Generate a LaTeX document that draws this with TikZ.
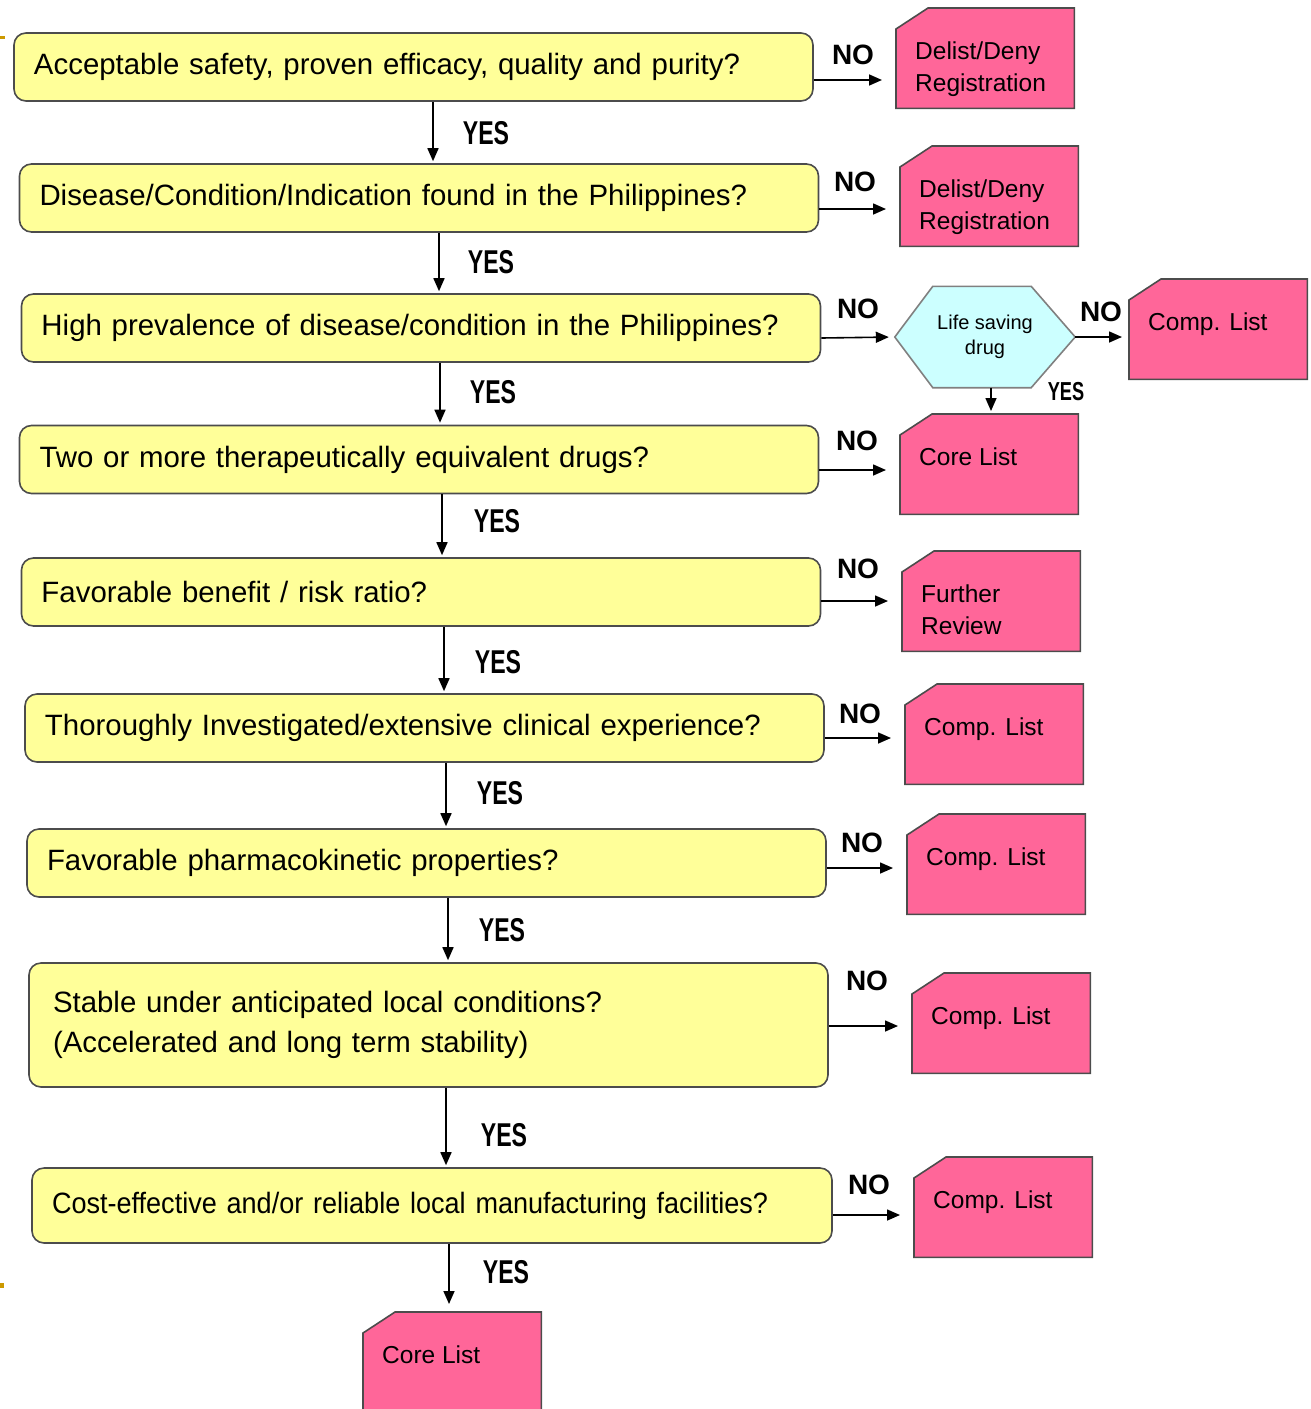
\documentclass[tikz,border=0pt]{standalone}
\usepackage{fontspec}
\setmainfont{Liberation Sans}
\newfontfamily\yesfont[FakeStretch=0.7]{Liberation Sans}
\newfontfamily\narrowfont[FakeStretch=0.92]{Liberation Sans}
\usetikzlibrary{arrows.meta,calc,backgrounds}
\definecolor{yfill}{HTML}{FFFF99}
\definecolor{pfill}{HTML}{FF6699}
\definecolor{hfill}{HTML}{CCFFFF}
\definecolor{markorange}{HTML}{CC9900}
\begin{document}
\begin{tikzpicture}[x=1pt,y=-1pt,
  ybox/.style={draw=black!70, line width=1.6pt, fill=yfill, rounded corners=12pt,
    minimum height=68pt, inner xsep=20pt, inner ysep=0pt, text width=759pt, align=left,
    font=\fontsize{29.4}{40}\selectfont},
  pbox/.style={minimum width=178pt, minimum height=100pt, inner sep=0pt, anchor=north west},
  ptext/.style={anchor=north west, inner sep=0pt, align=left, font=\fontsize{24.5}{32}\selectfont},
  pshape/.style={draw=black!70, line width=1.6pt, fill=pfill},
  arr/.style={line width=1.6pt, -{Triangle[length=13pt,width=11pt]}},
  nolab/.style={font=\bfseries\fontsize{28}{28}\selectfont, inner sep=0pt},
  yeslab/.style={font=\yesfont\bfseries\fontsize{33}{33}\selectfont, inner sep=0pt},
]
\clip (0,0) rectangle (1311,1409);

% orange slide markers
\fill[markorange] (0,36) rectangle (5,39);
\fill[markorange] (0,1283) rectangle (4,1288);

% question boxes
\node[ybox] (q1) at (413.5,67) {Acceptable safety, proven efficacy, quality and purity?};
\node[ybox] (q2) at (419,198) {Disease/Condition/Indication found in the Philippines?};
\node[ybox] (q3) at (421,328) {High prevalence of disease/condition in the Philippines?};
\node[ybox] (q4) at (419,459.5) {Two or more therapeutically equivalent drugs?};
\node[ybox] (q5) at (421,592) {Favorable benefit / risk ratio?};
\node[ybox] (q6) at (424.5,728) {Thoroughly Investigated/extensive clinical experience?};
\node[ybox] (q7) at (426.5,863) {Favorable pharmacokinetic properties?};
\node[ybox, minimum height=124pt, inner xsep=24pt, text width=751pt] (q8) at (428.5,1025)
  {Stable under anticipated local conditions?\\(Accelerated and long term stability)};
\node[ybox, minimum height=75pt, text width=760pt] (q9) at (432,1205.5)
  {\narrowfont Cost-effective and/or reliable local manufacturing facilities?};

% outcome boxes
\node[pbox] (p1) at (896,8) {};
\node[ptext] (p1t) at ([shift={(19,34)}]p1.north west) {Delist/Deny\\Registration};
\node[pbox] (p2) at (900,146) {};
\node[ptext] (p2t) at ([shift={(19,34)}]p2.north west) {Delist/Deny\\Registration};
\node[pbox] (p3) at (1129,279) {};
\node[ptext] (p3t) at ([shift={(19,34)}]p3.north west) {Comp. List};
\node[pbox] (p4) at (900,414) {};
\node[ptext] (p4t) at ([shift={(19,34)}]p4.north west) {Core List};
\node[pbox] (p5) at (902,551) {};
\node[ptext] (p5t) at ([shift={(19,34)}]p5.north west) {Further\\Review};
\node[pbox] (p6) at (905,684) {};
\node[ptext] (p6t) at ([shift={(19,34)}]p6.north west) {Comp. List};
\node[pbox] (p7) at (907,814) {};
\node[ptext] (p7t) at ([shift={(19,34)}]p7.north west) {Comp. List};
\node[pbox] (p8) at (912,973) {};
\node[ptext] (p8t) at ([shift={(19,34)}]p8.north west) {Comp. List};
\node[pbox] (p9) at (914,1157) {};
\node[ptext] (p9t) at ([shift={(19,34)}]p9.north west) {Comp. List};
\node[pbox] (p10) at (363,1312) {};
\node[ptext] (p10t) at ([shift={(19,34)}]p10.north west) {Core List};

% decision hexagon
\node[inner sep=0pt, minimum width=180pt, minimum height=101pt, align=center,
  font=\fontsize{20}{25}\selectfont] (hx) at (985,337) {Life saving\\drug};

\begin{scope}[on background layer]
  \foreach \n in {p1,p2,p3,p4,p5,p6,p7,p8,p9,p10}
    \draw[pshape] ($(\n.north west)+(0,21)$) -- ($(\n.north west)+(32,0)$)
      -- (\n.north east) -- (\n.south east) -- (\n.south west) -- cycle;
  \draw[draw=black!50, line width=1.6pt, fill=hfill]
    (hx.west) -- ($(hx.north west)+(38,0)$) -- ($(hx.north east)+(-44,0)$)
    -- (hx.east) -- ($(hx.south east)+(-44,0)$) -- ($(hx.south west)+(38,0)$) -- cycle;
\end{scope}

% YES connectors
\draw[arr, shorten >=2pt] (q1.south -| 433,0) -- (q2.north -| 433,0);
\draw[arr, shorten >=2pt] (q2.south -| 439,0) -- (q3.north -| 439,0);
\draw[arr, shorten >=2pt] (q3.south -| 440,0) -- (q4.north -| 440,0);
\draw[arr, shorten >=2pt] (q4.south -| 442,0) -- (q5.north -| 442,0);
\draw[arr, shorten >=2pt] (q5.south -| 444,0) -- (q6.north -| 444,0);
\draw[arr, shorten >=2pt] (q6.south -| 446,0) -- (q7.north -| 446,0);
\draw[arr, shorten >=2pt] (q7.south -| 448,0) -- (q8.north -| 448,0);
\draw[arr, shorten >=2pt] (q8.south -| 446,0) -- (q9.north -| 446,0);
\draw[arr, shorten >=8pt] (q9.south -| 449,0) -- (p10.north -| 449,0);
\draw[arr, shorten >=3pt] (hx.south -| 991,0) -- (p4.north -| 991,0);

% NO connectors
\draw[arr, shorten >=14pt] (q1.east |- 0,80) -- (p1.west |- 0,80);
\draw[arr, shorten >=14pt] (q2.east |- 0,209) -- (p2.west |- 0,209);
\draw[arr, shorten >=6pt] (q3.east |- 0,338) -- (hx.west);
\draw[arr, shorten >=7pt] (hx.east) -- (p3.west |- hx.east);
\draw[arr, shorten >=14pt] (q4.east |- 0,470) -- (p4.west |- 0,470);
\draw[arr, shorten >=14pt] (q5.east |- 0,601) -- (p5.west |- 0,601);
\draw[arr, shorten >=14pt] (q6.east |- 0,738) -- (p6.west |- 0,738);
\draw[arr, shorten >=14pt] (q7.east |- 0,868) -- (p7.west |- 0,868);
\draw[arr, shorten >=14pt] (q8.east |- 0,1026) -- (p8.west |- 0,1026);
\draw[arr, shorten >=14pt] (q9.east |- 0,1215) -- (p9.west |- 0,1215);

% labels
\node[yeslab] (y1) at (486,133) {YES};
\node[yeslab] (y2) at (491,262) {YES};
\node[yeslab] (y3) at (493,392) {YES};
\node[yeslab] (y4) at (497,521) {YES};
\node[yeslab] (y5) at (498,662) {YES};
\node[yeslab] (y6) at (500,793) {YES};
\node[yeslab] (y7) at (502,930) {YES};
\node[yeslab] (y8) at (504,1135) {YES};
\node[yeslab] (y9) at (506,1272) {YES};
\node[yeslab, font=\yesfont\bfseries\fontsize{26}{26}\selectfont] (yh) at (1066,392) {YES};
\node[nolab] (n1) at (853,55) {NO};
\node[nolab] (n2) at (855,182) {NO};
\node[nolab] (n3) at (858,309) {NO};
\node[nolab] (nh) at (1101,312) {NO};
\node[nolab] (n4) at (857,441) {NO};
\node[nolab] (n5) at (858,569) {NO};
\node[nolab] (n6) at (860,714) {NO};
\node[nolab] (n7) at (862,843) {NO};
\node[nolab] (n8) at (867,981) {NO};
\node[nolab] (n9) at (869,1185) {NO};
\end{tikzpicture}
\end{document}
